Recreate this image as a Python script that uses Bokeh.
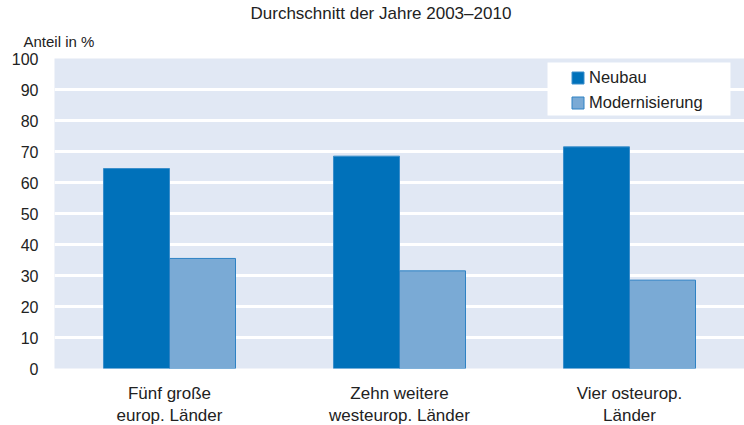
from bokeh.plotting import figure
from bokeh.models import ColumnDataSource, FixedTicker, Legend, Title, BoxAnnotation
from bokeh.transform import dodge
from bokeh.embed import file_html
from bokeh.resources import INLINE

categories = ["Fünf große\neurop. Länder", "Zehn weitere\nwesteurop. Länder", "Vier osteurop.\nLänder"]
neubau = [64.5, 68.5, 71.5]
modernisierung = [35.5, 31.5, 28.5]
y_ticks = [0, 10, 20, 30, 40, 50, 60, 70, 80, 90, 100]
title_text = "Durchschnitt der Jahre 2003–2010"
y_title = "Anteil in %"

FONT = "Liberation Sans"
TXT = "#222222"

src = ColumnDataSource(dict(cat=categories, neubau=neubau, mod=modernisierung))

p = figure(x_range=categories, y_range=(0, 100), frame_width=690, frame_height=310,
           min_border_left=54, min_border_right=0, min_border_top=58, min_border_bottom=10,
           output_backend="svg", toolbar_location=None)

p.background_fill_color = "#E1E8F4"
p.border_fill_color = "white"
p.outline_line_color = None

bw = 0.287
r1 = p.vbar(x=dodge("cat", -bw / 2, range=p.x_range), top="neubau", width=bw, source=src,
            fill_color="#0071BA", line_color="#3A8ECB", line_width=1)
r2 = p.vbar(x=dodge("cat", bw / 2, range=p.x_range), top="mod", width=bw, source=src,
            fill_color="#7AAAD5", line_color="#2E82C4", line_width=1)

p.xgrid.grid_line_color = None
p.ygrid.grid_line_color = "white"
p.ygrid.grid_line_width = 3
p.ygrid.level = "underlay"
p.yaxis.ticker = FixedTicker(ticks=y_ticks)
p.yaxis.minor_tick_line_color = None

for ax in (p.xaxis[0], p.yaxis[0]):
    ax.axis_line_color = None
    ax.major_tick_line_color = None
    ax.major_tick_out = 0
    ax.major_tick_in = 0
    ax.major_label_text_font = FONT
    ax.major_label_text_color = TXT

p.yaxis.major_label_text_font_size = "16px"
p.yaxis.major_label_standoff = 16
p.xaxis.major_label_text_font_size = "17px"
p.xaxis.major_label_standoff = 15

# white panel behind the legend
legend_bg = BoxAnnotation(left=2.1435, right=2.939, bottom=81.6, top=98.7,
                          fill_color="white", fill_alpha=1, line_color=None,
                          level="annotation")
p.add_layout(legend_bg)

legend = Legend(items=[("Neubau", [r1]), ("Modernisierung", [r2])],
                location=(516, 256), orientation="vertical",
                background_fill_alpha=0,
                border_line_color=None, padding=0, spacing=5,
                glyph_width=15, glyph_height=15, label_height=20, label_width=130,
                label_standoff=4, label_text_font=FONT, label_text_font_size="16.5px",
                label_text_color=TXT, margin=0)
p.add_layout(legend, "center")

t_main = Title(text=title_text, align="left", offset=196, standoff=0,
               text_font=FONT, text_font_size="17px", text_font_style="normal", text_color=TXT)
t_y = Title(text=y_title, align="left", offset=-31, standoff=17,
            text_font=FONT, text_font_size="15px", text_font_style="normal", text_color=TXT)
p.title = None
p.above = [t_y, t_main]

open("out.html", "w").write(file_html(p, INLINE))
